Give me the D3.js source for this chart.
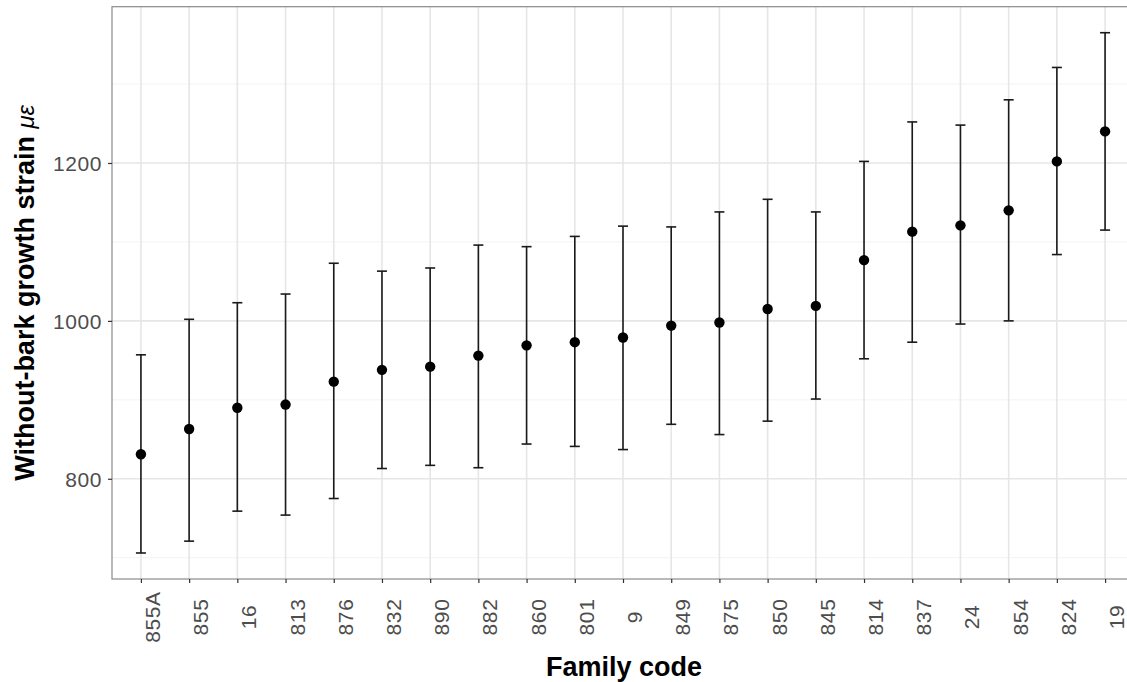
<!DOCTYPE html>
<html>
<head>
<meta charset="utf-8">
<script src="https://cdn.jsdelivr.net/npm/d3@7"></script>
<style>
  body { margin: 0; background: #fff; overflow: hidden; }
  svg { display: block; font-family: "Liberation Sans", Arial, sans-serif; }
</style>
</head>
<body>
<svg id="chart" width="1127" height="682"></svg>
<script>
// family codes, ordered by mean strain
const families = ["855A", "855", "16", "813", "876", "832", "890", "882", "860", "801", "9",
                  "849", "875", "850", "845", "814", "837", "24", "854", "824", "19"];
const means = [831, 863, 890, 894, 923, 938, 942, 956, 969, 973, 979,
               994, 998, 1015, 1019, 1077, 1113, 1121, 1140, 1202, 1240];
const lower = [706, 721, 759, 754, 775, 813, 817, 814, 844, 841, 837,
               869, 856, 873, 901, 952, 973, 996, 1000, 1084, 1115];
const upper = [957, 1002, 1023, 1034, 1073, 1063, 1067, 1096, 1094, 1107, 1120,
               1119, 1138, 1154, 1138, 1202, 1252, 1248, 1280, 1321, 1365];
const yMajor = [800, 1000, 1200];
const yMinor = [700, 900, 1100, 1300];

let panelLeft = 112;
let panelTop = 6.7;
let panelBottom = 579;
let panelRight = 1134;   // panel runs past the right edge of the picture

let rows = families.map(function(f, i) {
  return {family: f, mean: means[i], lo: lower[i], hi: upper[i]};
});

let x = d3.scalePoint()
  .domain(families)
  .range([panelLeft, panelRight])
  .padding(0.6);

let yMin = d3.min(lower), yMax = d3.max(upper);
let pad = (yMax - yMin) * 0.05;
let y = d3.scaleLinear()
  .domain([yMin - pad, yMax + pad])
  .range([panelBottom, panelTop]);

let svg = d3.select("#chart");

// grid lines
svg.selectAll(".minorY")
  .data(yMinor)
  .enter()
  .append("line")
    .attr("x1", panelLeft).attr("x2", panelRight)
    .attr("y1", function(d) { return y(d); })
    .attr("y2", function(d) { return y(d); })
    .style("stroke", "#f3f3f3")
    .style("stroke-width", "1px");

svg.selectAll(".majorY")
  .data(yMajor)
  .enter()
  .append("line")
    .attr("x1", panelLeft).attr("x2", panelRight)
    .attr("y1", function(d) { return y(d); })
    .attr("y2", function(d) { return y(d); })
    .style("stroke", "#e6e6e6")
    .style("stroke-width", "1.6px");

svg.selectAll(".majorX")
  .data(families)
  .enter()
  .append("line")
    .attr("x1", function(d) { return x(d); })
    .attr("x2", function(d) { return x(d); })
    .attr("y1", panelTop).attr("y2", panelBottom)
    .style("stroke", "#e6e6e6")
    .style("stroke-width", "1.6px");

// error bars
svg.selectAll(".bar")
  .data(rows)
  .enter()
  .append("line")
    .attr("x1", function(d) { return x(d.family); })
    .attr("x2", function(d) { return x(d.family); })
    .attr("y1", function(d) { return y(d.lo); })
    .attr("y2", function(d) { return y(d.hi); })
    .style("stroke", "#1a1a1a")
    .style("stroke-width", "1.6px");

["lo", "hi"].forEach(function(k) {
  svg.selectAll(".cap" + k)
    .data(rows)
    .enter()
    .append("line")
      .attr("x1", function(d) { return x(d.family) - 5; })
      .attr("x2", function(d) { return x(d.family) + 5; })
      .attr("y1", function(d) { return y(d[k]); })
      .attr("y2", function(d) { return y(d[k]); })
      .style("stroke", "#1a1a1a")
      .style("stroke-width", "1.6px");
});

// mean points
svg.selectAll(".pt")
  .data(rows)
  .enter()
  .append("circle")
    .attr("cx", function(d) { return x(d.family); })
    .attr("cy", function(d) { return y(d.mean); })
    .attr("r", 5.2)
    .style("fill", "#000");

// panel border
svg.append("rect")
  .attr("x", panelLeft).attr("y", panelTop)
  .attr("width", panelRight - panelLeft).attr("height", panelBottom - panelTop)
  .style("fill", "none")
  .style("stroke", "#8a8a8a")
  .style("stroke-width", "1.2px");

// y axis
let yAxis = svg.append("g")
  .attr("transform", "translate(" + panelLeft + ",0)")
  .call(d3.axisLeft(y).tickValues(yMajor).tickSize(4).tickPadding(6).tickFormat(d3.format("d")));
yAxis.select(".domain").remove();
yAxis.selectAll(".tick line").style("stroke", "#333").style("stroke-width", "1.2px");
yAxis.selectAll(".tick text")
  .style("font-family", "Liberation Sans, Arial, sans-serif")
  .style("font-size", "21px")
  .style("letter-spacing", "0.6px")
  .style("fill", "#4d4d4d")
  .attr("dy", "0.36em");

// x axis
let xAxis = svg.append("g")
  .attr("transform", "translate(0," + panelBottom + ")")
  .call(d3.axisBottom(x).tickSize(4));
xAxis.select(".domain").remove();
xAxis.selectAll(".tick line").style("stroke", "#333").style("stroke-width", "1.2px");
xAxis.selectAll(".tick text")
  .attr("x", 0).attr("y", 0).attr("dy", null)
  .attr("transform", "translate(18.5,38) rotate(-90)")
  .style("text-anchor", "middle")
  .style("font-family", "Liberation Sans, Arial, sans-serif")
  .style("font-size", "21px")
  .style("letter-spacing", "0.6px")
  .style("fill", "#4d4d4d");

// axis titles
svg.append("text")
  .attr("x", 624)
  .attr("y", 676)
  .text("Family code")
  .style("text-anchor", "middle")
  .style("font-weight", "bold")
  .style("font-size", "27px")
  .style("fill", "#000");

let yTitle = svg.append("text")
  .attr("transform", "translate(34," + ((panelTop + panelBottom) / 2) + ") rotate(-90)")
  .style("text-anchor", "middle")
  .style("fill", "#000");
yTitle.append("tspan")
  .text("Without-bark growth strain ")
  .style("font-weight", "bold")
  .style("font-size", "27px");
yTitle.append("tspan")
  .text("με")
  .style("font-weight", "normal")
  .style("font-style", "italic")
  .style("font-size", "24px");
</script>
</body>
</html>
